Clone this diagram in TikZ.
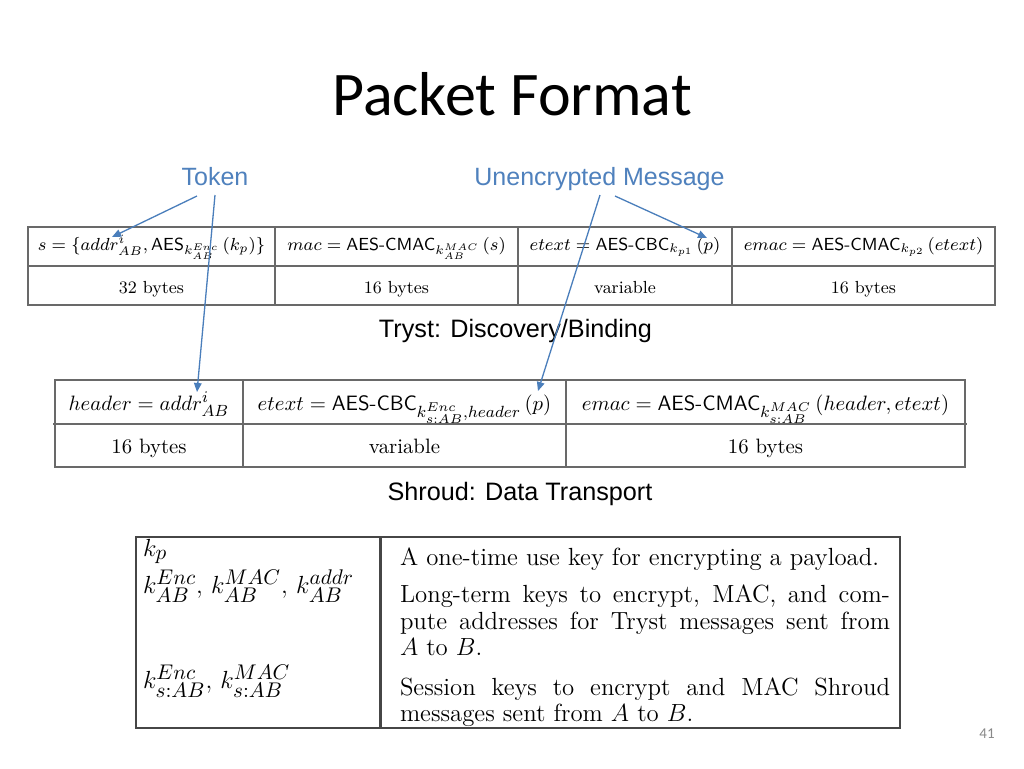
\RequirePackage{fix-cm}
\documentclass[tikz,border=0pt]{standalone}
\usepackage{fontspec}
\usepackage{amsmath}
\DeclareMathSizes{8.75}{8.75}{6.3}{4.8}
\DeclareMathSizes{10.4}{10.4}{8.1}{6.4}
\DeclareMathSizes{12.4}{12.4}{10.6}{8}
\newfontfamily\titlefont{Carlito}
\newfontfamily\arialfont{Liberation Sans}
\usetikzlibrary{arrows.meta}
\definecolor{callout}{RGB}{74,126,187}
\definecolor{calltext}{RGB}{79,129,189}
\definecolor{gridline}{RGB}{105,105,105}
\definecolor{boxline}{RGB}{70,70,70}
\definecolor{pagenum}{RGB}{137,137,137}
\begin{document}
\begin{tikzpicture}[x=0.5pt,y=-0.5pt,
  every node/.style={inner sep=0pt,outer sep=0pt},
  grid/.style={draw=gridline,line width=0.7pt},
  keybox/.style={draw=boxline,line width=1pt},
  callarrow/.style={draw=callout,line width=0.65pt,-{Triangle[length=4.5pt,width=3.8pt]}},
  calllabel/.style={font=\arialfont\fontsize{12.5}{14}\selectfont,text=calltext,anchor=base},
  caption/.style={font=\arialfont\fontsize{12.6}{14}\selectfont,anchor=base},
  tonecell/.style={font=\fontsize{8.75}{10.5}\selectfont,anchor=base},
  ttwocell/.style={font=\fontsize{10.4}{12.5}\selectfont,anchor=base},
  keytext/.style={font=\fontsize{12.4}{14}\selectfont,anchor=base west},
]
\useasboundingbox (0,0) rectangle (1024,768);
\fill[white] (0,0) rectangle (1024,768);

% title
\node[font=\titlefont\fontsize{31}{37}\selectfont,anchor=base] (title) at (512,115) {Packet Format};

% callout labels
\node[calllabel] (token) at (215,185) {Token};
\node[calllabel] (unenc) at (599.5,185) {Unencrypted Message};

% Tryst table
\draw[grid] (28,227) rectangle (995,305);
\draw[grid] (28,266) -- (995,266);
\draw[grid] (275,227) -- (275,305);
\draw[grid] (518,227) -- (518,305);
\draw[grid] (732,227) -- (732,305);
\node[tonecell] (ta) at (151.5,250) {$s=\{addr^{i}_{AB},\textsf{AES}_{k^{Enc}_{AB}}\,(k_p)\}$};
\node[tonecell] (tb) at (396.5,250) {$mac=\textsf{AES-CMAC}_{k^{MAC}_{AB}}\,(s)$};
\node[tonecell] (tc) at (625,250) {$etext=\textsf{AES-CBC}_{k_{p1}}\,(p)$};
\node[tonecell] (td) at (863.5,250) {$emac=\textsf{AES-CMAC}_{k_{p2}}\,(etext)$};
\node[tonecell] (tsa) at (151.5,293) {32 bytes};
\node[tonecell] (tsb) at (396.5,293) {16 bytes};
\node[tonecell] (tsc) at (625,293) {variable};
\node[tonecell] (tsd) at (863.5,293) {16 bytes};
\node[caption] (tryst) at (515.5,337) {Tryst: Discovery/Binding};

% Shroud table
\draw[grid] (55,380) rectangle (965,467);
\draw[grid] (53,424) -- (967,424);
\draw[grid] (243,380) -- (243,467);
\draw[grid] (566,380) -- (566,467);
\node[ttwocell] (sa) at (149,410) {$header=addr^{i}_{AB}$};
\node[ttwocell] (sb) at (404.5,410) {$etext=\textsf{AES-CBC}_{k^{Enc}_{s:AB},header}\,(p)$};
\node[ttwocell] (sc) at (765.5,410) {$emac=\textsf{AES-CMAC}_{k^{MAC}_{s:AB}}\,(header,etext)$};
\node[ttwocell] (ssa) at (149,453) {16 bytes};
\node[ttwocell] (ssb) at (404.5,453) {variable};
\node[ttwocell] (ssc) at (765.5,453) {16 bytes};
\node[caption] (shroud) at (520,500) {Shroud: Data Transport};

% key table
\draw[keybox] (136,537) rectangle (900,728);
\draw[draw=boxline,line width=1.5pt] (380,537) -- (380,728);
\node[keytext] (k1) at (143,556) {$k_p$};
\node[keytext] (k2) at (143,593) {$k^{Enc}_{AB},\,k^{MAC}_{AB},\,k^{addr}_{AB}$};
\node[keytext] (k3) at (143,688) {$k^{Enc}_{s:AB},\,k^{MAC}_{s:AB}$};
\node[keytext] (d1) at (400,565) {A one-time use key for encrypting a payload.};
\node[keytext] (d2) at (400,602) {\makebox[245pt][s]{Long-term keys to encrypt, MAC, and com-}};
\node[keytext] (d3) at (400,629) {\makebox[245pt][s]{pute addresses for Tryst messages sent from}};
\node[keytext] (d4) at (400,655) {$A$ to $B$.};
\node[keytext] (d5) at (400,695) {\makebox[245pt][s]{Session keys to encrypt and MAC Shroud}};
\node[keytext] (d6) at (400,721) {messages sent from $A$ to $B$.};

% page number
\node[font=\titlefont\fontsize{7.5}{9}\selectfont,text=pagenum,anchor=base] (pg) at (987,738) {41};

% callout arrows
\coordinate (tokS1) at (197,196);
\coordinate (tokE1) at (112,237);
\coordinate (tokS2) at (215,195);
\coordinate (tokE2) at (197,392);
\coordinate (umS1) at (600,195);
\coordinate (umE1) at (538,391);
\coordinate (umS2) at (615,196);
\coordinate (umE2) at (707,238);
\draw[callarrow] (tokS1) -- (tokE1);
\draw[callarrow] (tokS2) -- (tokE2);
\draw[callarrow] (umS1) -- (umE1);
\draw[callarrow] (umS2) -- (umE2);
\end{tikzpicture}
\end{document}
